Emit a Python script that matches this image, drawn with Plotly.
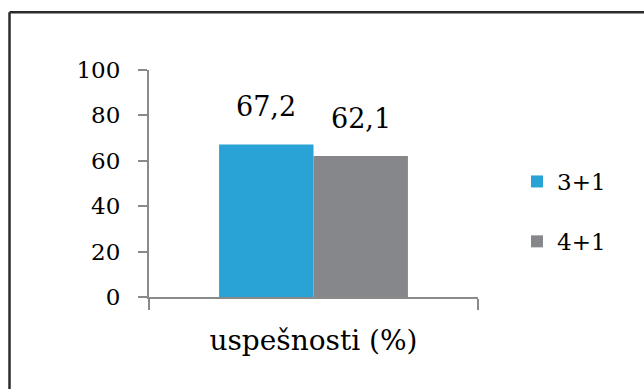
import plotly.graph_objects as go

categories = ["uspešnosti (%)"]
series_names = ["3+1", "4+1"]
series_values = [[67.2], [62.1]]
series_colors = ["#29A3D6", "#86878B"]
value_labels = [["67,2"], ["62,1"]]
y_ticks = [0, 20, 40, 60, 80, 100]

W, H = 644, 389
ml, mr, mt, mb = 149, 166, 70, 92
pw, ph = W - ml - mr, H - mt - mb
bargap = 0.426
FONT = "DejaVu Serif"
AXIS = "#8A8A8A"

fig = go.Figure()
for name, vals, col in zip(series_names, series_values, series_colors):
    fig.add_trace(go.Bar(x=categories, y=vals, name=name, marker=dict(color=col, line=dict(width=0)),
                         legendgroup=name))

n = len(series_names)
annotations = []
for i, (vals, labs) in enumerate(zip(series_values, value_labels)):
    off = (-0.5 + (i + 0.5) / n) * (1 - bargap)
    for ci, (v, lab) in enumerate(zip(vals, labs)):
        annotations.append(dict(x=ci + off, y=v, xref="x", yref="y", text=lab, showarrow=False,
                                yanchor="bottom", yshift=20,
                                font=dict(family=FONT, size=27, color="black")))

def px(x):
    return (x - ml) / pw

def py(y):
    return (H - mb - y) / ph

shapes = [
    dict(type="line", xref="paper", yref="paper", x0=px(9.5), x1=px(9.5), y0=py(H + 5), y1=py(12.3),
         line=dict(color="#2B2B2B", width=2.5)),
    dict(type="line", xref="paper", yref="paper", x0=px(9.5), x1=px(W + 5), y0=py(12.3), y1=py(12.3),
         line=dict(color="#2B2B2B", width=2.5)),
]

fig.update_layout(
    width=W, height=H,
    margin=dict(l=ml, r=mr, t=mt, b=mb, pad=0),
    paper_bgcolor="white", plot_bgcolor="white",
    barmode="group", bargap=bargap, bargroupgap=0,
    font=dict(family=FONT, size=23, color="black"),
    showlegend=True,
    legend=dict(x=px(517), y=py(211.5), xanchor="left", yanchor="middle",
                font=dict(family=FONT, size=23, color="black"),
                traceorder="grouped", tracegroupgap=27, bgcolor="rgba(0,0,0,0)"),
    annotations=annotations,
    shapes=shapes,
    xaxis=dict(showline=True, linecolor=AXIS, linewidth=2, ticks="outside", tickson="boundaries",
               ticklen=11, tickwidth=2, tickcolor=AXIS, showgrid=False,
               tickfont=dict(family=FONT, size=28, color="black"), ticklabelstandoff=17),
    yaxis=dict(range=[0, 100], tickvals=y_ticks, showline=True, linecolor=AXIS, linewidth=2,
               ticks="outside", ticklen=9, tickwidth=2, tickcolor=AXIS, showgrid=False, zeroline=False,
               tickfont=dict(family=FONT, size=23, color="black"), ticklabelstandoff=13),
)

fig.write_html("out.html")
